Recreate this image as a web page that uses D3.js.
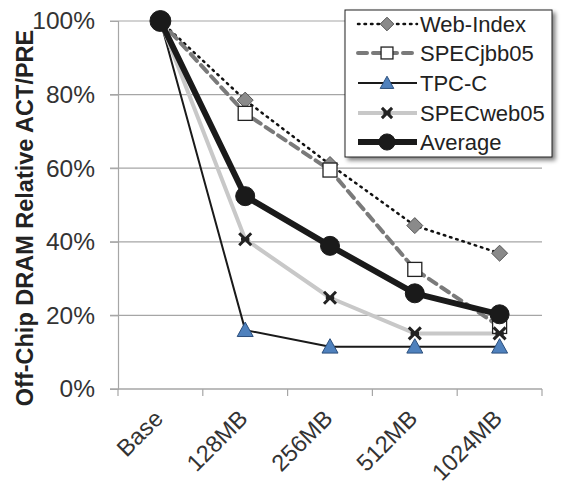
<!DOCTYPE html>
<html>
<head>
<meta charset="utf-8">
<script src="https://cdn.jsdelivr.net/npm/d3@7"></script>
<style>
  html, body { margin: 0; padding: 0; background: #fff; }
  svg { display: block; font-family: "Liberation Sans", Arial, sans-serif; }
</style>
</head>
<body>
<svg id="chart" width="564" height="485"></svg>
<script>
// Cache sizes on the x axis
const categories = ["Base", "128MB", "256MB", "512MB", "1024MB"];
// Relative ACT/PRE counts (%) per workload
const webIndex   = [100, 78.5, 61.0, 44.4, 36.9];
const specjbb05  = [100, 74.9, 59.5, 32.5, 17.0];
const tpcc       = [100, 16.0, 11.5, 11.5, 11.5];
const specweb05  = [100, 40.7, 24.8, 15.1, 15.1];
const average    = [100, 52.4, 38.9, 26.0, 20.3];
const yTicks     = [0, 20, 40, 60, 80, 100];
const seriesNames = ["Web-Index", "SPECjbb05", "TPC-C", "SPECweb05", "Average"];

const series = [
  { name: seriesNames[0], values: webIndex,  stroke: "#111", width: 2.5, dash: "1.5,5", cap: "round", marker: "diamond" },
  { name: seriesNames[1], values: specjbb05, stroke: "#7a7a7a", width: 4, dash: "9,6", cap: "round", marker: "square" },
  { name: seriesNames[2], values: tpcc,      stroke: "#1a1a1a", width: 2, dash: null, cap: "butt", marker: "triangle" },
  { name: seriesNames[3], values: specweb05, stroke: "#c8c8c8", width: 4, dash: null, cap: "butt", marker: "star" },
  { name: seriesNames[4], values: average,   stroke: "#1a1a1a", width: 6, dash: null, cap: "butt", marker: "circle" }
];

const svg = d3.select("#chart");
const plotLeft = 118, plotRight = 542, plotTop = 21, plotBottom = 389;

const x = d3.scaleBand().domain(categories).range([plotLeft, plotRight]);
const y = d3.scaleLinear().domain([0, 100]).range([plotBottom, plotTop]);

// shadow filter for legend box
const defs = svg.append("defs");
const f = defs.append("filter").attr("id", "shadow").attr("x", "-10%").attr("y", "-10%").attr("width", "130%").attr("height", "130%");
f.append("feGaussianBlur").attr("in", "SourceAlpha").attr("stdDeviation", 2);
f.append("feOffset").attr("dx", 3).attr("dy", 3).attr("result", "b");
f.append("feComponentTransfer").append("feFuncA").attr("type", "linear").attr("slope", 0.5);
const fm = f.append("feMerge");
fm.append("feMergeNode");
fm.append("feMergeNode").attr("in", "SourceGraphic");

// gridlines
svg.append("g").selectAll("line").data(yTicks).join("line")
  .attr("x1", plotLeft - 8).attr("x2", plotRight)
  .attr("y1", d => y(d)).attr("y2", d => y(d))
  .attr("stroke", "#a6a6a6").attr("stroke-width", 1.2);

// y axis
const yAxis = svg.append("g").attr("transform", `translate(${plotLeft},0)`)
  .call(d3.axisLeft(y).tickValues(yTicks).tickFormat(d => d + "%").tickSize(8).tickPadding(15));
yAxis.select(".domain").attr("stroke", "#a6a6a6").attr("stroke-width", 1.2);
yAxis.selectAll(".tick line").attr("stroke", "#a6a6a6");
yAxis.selectAll("text").attr("font-size", 24.5).attr("fill", "#333").style("font-family", "Liberation Sans, Arial, sans-serif");

// x axis with ticks at band edges
const xAxisG = svg.append("g").attr("transform", `translate(0,${plotBottom})`);
xAxisG.append("line").attr("x1", plotLeft - 8).attr("x2", plotRight).attr("y1", 0).attr("y2", 0)
  .attr("stroke", "#a6a6a6").attr("stroke-width", 1.2);
const edges = categories.map(c => x(c)).concat([plotRight]);
xAxisG.selectAll("line.edge").data(edges).join("line").attr("class", "edge")
  .attr("x1", d => d).attr("x2", d => d).attr("y1", 0).attr("y2", 7)
  .attr("stroke", "#a6a6a6").attr("stroke-width", 1.2);
xAxisG.selectAll("text").data(categories).join("text")
  .attr("transform", d => `translate(${x(d) + x.bandwidth() / 2 + 4},${31}) rotate(-45)`)
  .attr("text-anchor", "end")
  .attr("font-size", 23.5).attr("fill", "#333")
  .text(d => d);

// y axis title
svg.append("text")
  .attr("transform", `translate(25,218) rotate(-90)`)
  .attr("text-anchor", "middle").attr("dy", "0.35em")
  .attr("font-size", 23.5).attr("font-weight", "bold").attr("fill", "#222")
  .text("Off-Chip DRAM Relative ACT/PRE");

const cx = c => x(c) + x.bandwidth() / 2;
const line = d3.line().x((d, i) => cx(categories[i])).y(d => y(d));

function drawMarker(g, type, px, py, scale) {
  const s = scale || 1;
  if (type === "diamond") {
    const r = 8 * s;
    g.append("path").attr("d", `M${px},${py - r}L${px + r},${py}L${px},${py + r}L${px - r},${py}Z`)
      .attr("fill", "#8a8a8a").attr("stroke", "#555").attr("stroke-width", 1);
  } else if (type === "square") {
    const r = 7 * s;
    g.append("rect").attr("x", px - r).attr("y", py - r).attr("width", 2 * r).attr("height", 2 * r)
      .attr("fill", "#fff").attr("stroke", "#222").attr("stroke-width", 1.3);
  } else if (type === "triangle") {
    const r = 8 * s;
    g.append("path").attr("d", `M${px},${py - r}L${px + r},${py + r * 0.8}L${px - r},${py + r * 0.8}Z`)
      .attr("fill", "#4f81bd").attr("stroke", "#2c4f7c").attr("stroke-width", 1);
  } else if (type === "star") {
    const r = 6 * s;
    g.append("path").attr("d", `M${px - r},${py - r}L${px + r},${py + r}M${px + r},${py - r}L${px - r},${py + r}M${px - r * 0.7},${py}L${px + r * 0.7},${py}`)
      .attr("stroke", "#222").attr("stroke-width", 3).attr("fill", "none");
  } else if (type === "circle") {
    g.append("circle").attr("cx", px).attr("cy", py).attr("r", 9.5 * s)
      .attr("fill", "#1a1a1a").attr("stroke", "#1a1a1a");
  }
}

// series lines
const linesG = svg.append("g");
series.forEach(s => {
  linesG.append("path").datum(s.values).attr("d", line)
    .attr("fill", "none").attr("stroke", s.stroke).attr("stroke-width", s.width)
    .attr("stroke-dasharray", s.dash).attr("stroke-linecap", s.cap).attr("stroke-linejoin", "round");
});
// series markers
const marksG = svg.append("g");
series.forEach(s => {
  s.values.forEach((v, i) => {
    if (i === 0 && s.name !== "Average") return;
    drawMarker(marksG, s.marker, cx(categories[i]), y(v), i === 0 ? 1.1 : 1);
  });
});

// legend
const lg = svg.append("g");
lg.append("rect").attr("x", 345).attr("y", 10).attr("width", 207).attr("height", 147)
  .attr("fill", "#fff").attr("stroke", "#222").attr("stroke-width", 1).attr("filter", "url(#shadow)");
const rowY = [24, 53, 83, 113, 142];
series.forEach((s, i) => {
  const ry = rowY[i];
  lg.append("line").attr("x1", 358).attr("x2", 417).attr("y1", ry).attr("y2", ry)
    .attr("stroke", s.stroke).attr("stroke-width", s.width).attr("stroke-dasharray", s.dash)
    .attr("stroke-linecap", s.cap);
  drawMarker(lg, s.marker, 387, ry, 0.85);
  lg.append("text").attr("x", 420).attr("y", ry).attr("dy", "0.35em")
    .attr("font-size", 22).attr("fill", "#222").text(s.name);
});
</script>
</body>
</html>
